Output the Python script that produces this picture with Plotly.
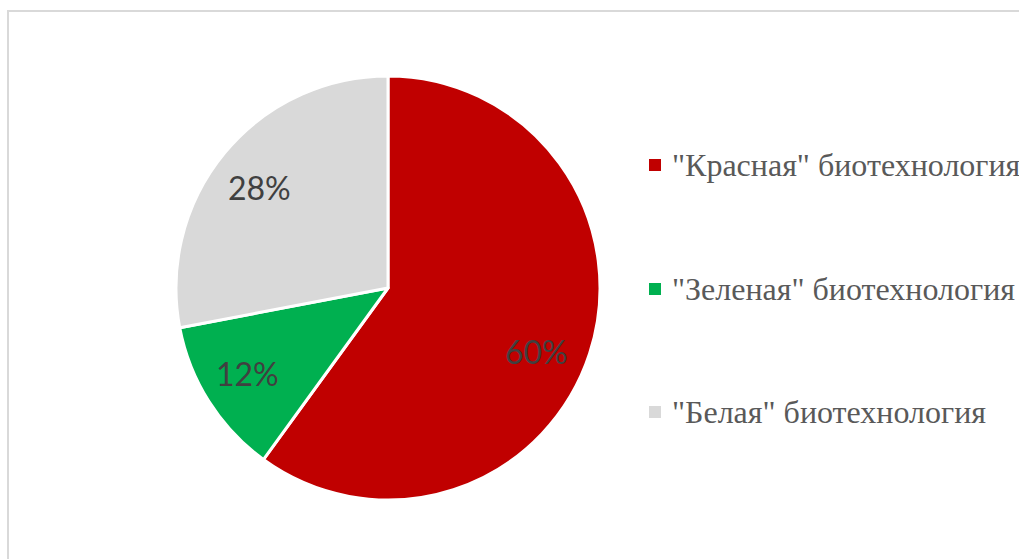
import math
import plotly.graph_objects as go

# Shares of biotechnology branches
labels = ['"Красная" биотехнология', '"Зеленая" биотехнология', '"Белая" биотехнология']
values = [60, 12, 28]
colors = ["#C00000", "#00B050", "#D9D9D9"]

W, H = 1019, 559
cx, cy, r = 388, 288, 212  # pie centre and radius in pixels

fig = go.Figure(
    go.Pie(
        labels=labels,
        values=values,
        sort=False,
        direction="clockwise",
        rotation=0,
        marker=dict(colors=colors, line=dict(color="white", width=3)),
        textinfo="none",
        hoverinfo="label+percent",
        showlegend=False,
        domain=dict(x=[(cx - r) / W, (cx + r) / W], y=[(H - cy - r) / H, (H - cy + r) / H]),
    )
)

annotations = []
# Percentage labels along each slice bisector, with small per-label nudges (px)
label_nudge = [(-7, 13), (-3, -2), (-3, 4)]
total = sum(values)
acc = 0
for v, (nx, ny) in zip(values, label_nudge):
    mid = (acc + v / 2) / total * 2 * math.pi
    acc += v
    px = cx + 0.77 * r * math.sin(mid) + nx
    py = cy - 0.77 * r * math.cos(mid) + ny
    annotations.append(dict(
        x=px / W, y=1 - py / H, xref="paper", yref="paper",
        text=f"{round(v / total * 100)}%", showarrow=False,
        font=dict(family="Lato", size=32, color="#404040"),
        xanchor="center", yanchor="middle",
    ))

# Legend on the right
shapes = []
legend_y = [165, 289, 412]
for lab, col, ly in zip(labels, colors, legend_y):
    shapes.append(dict(
        type="rect", xref="paper", yref="paper",
        x0=649 / W, x1=661 / W, y0=1 - (ly + 6) / H, y1=1 - (ly - 6) / H,
        fillcolor=col, line=dict(width=0),
    ))
    annotations.append(dict(
        x=670 / W, y=1 - ly / H, xref="paper", yref="paper",
        text=lab, showarrow=False,
        font=dict(family="Liberation Serif", size=32, color="#595959"),
        xanchor="left", yanchor="middle",
    ))

# Chart area frame
shapes.append(dict(
    type="rect", xref="paper", yref="paper",
    x0=8 / W, x1=1.02, y0=-0.02, y1=1 - 11 / H,
    line=dict(color="#D9D9D9", width=2), fillcolor="rgba(0,0,0,0)",
))

fig.update_layout(
    width=W, height=H,
    margin=dict(l=0, r=0, t=0, b=0),
    paper_bgcolor="white", plot_bgcolor="white",
    annotations=annotations, shapes=shapes,
)

fig.write_html("out.html")
